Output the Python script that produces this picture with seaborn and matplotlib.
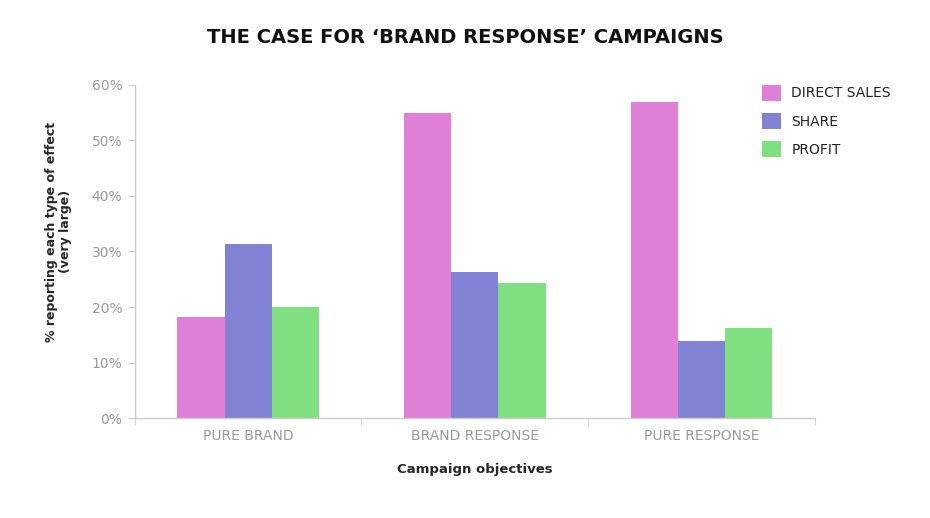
import pandas as pd
import seaborn as sns
import matplotlib.pyplot as plt
from matplotlib.ticker import FixedLocator, PercentFormatter

CATEGORIES = ["PURE BRAND", "BRAND RESPONSE", "PURE RESPONSE"]
DIRECT_SALES = [18.2, 54.9, 57.0]
SHARE = [31.4, 26.3, 13.9]
PROFIT = [20.0, 24.4, 16.2]
SERIES = ["DIRECT SALES", "SHARE", "PROFIT"]
COLORS = ["#df80d6", "#8282d4", "#80df80"]

df = pd.DataFrame({
    "objective": CATEGORIES * 3,
    "effect": [s for s in SERIES for _ in CATEGORIES],
    "pct": DIRECT_SALES + SHARE + PROFIT,
})

sns.set_style("white")
plt.rcParams["font.family"] = ["DejaVu Sans"]

fig = plt.figure(figsize=(9.3, 5.18), dpi=100)
ax = fig.add_axes([0.145, 0.193, 0.731, 0.643])

sns.barplot(data=df, x="objective", y="pct", hue="effect", order=CATEGORIES,
            hue_order=SERIES, palette=COLORS, width=0.625, saturation=1,
            ax=ax, linewidth=0)

ax.set_xlim(-0.5, 2.5)
ax.set_ylim(0, 60)
ax.set_yticks(range(0, 61, 10))
ax.yaxis.set_major_formatter(PercentFormatter(decimals=0))

grey = "#cccccc"
for side in ["top", "right"]:
    ax.spines[side].set_visible(False)
for side in ["left", "bottom"]:
    ax.spines[side].set_color(grey)
    ax.spines[side].set_linewidth(1)

ax.tick_params(axis="y", which="major", length=5, color=grey, labelsize=10,
               labelcolor="#9a9a9a", pad=4, left=True)
ax.tick_params(axis="x", which="major", length=0, labelsize=10,
               labelcolor="#9a9a9a", pad=8)
ax.xaxis.set_minor_locator(FixedLocator([-0.5, 0.5, 1.5, 2.5]))
ax.tick_params(axis="x", which="minor", length=5, color=grey, bottom=True)

ax.set_xlabel("Campaign objectives", fontsize=9.5, fontweight="bold", labelpad=14)
ax.set_ylabel("% reporting each type of effect\n(very large)", fontsize=9,
              fontweight="heavy", linespacing=1.05)
ax.yaxis.set_label_coords(-0.093, 0.56)

fig.suptitle("THE CASE FOR \u2018BRAND RESPONSE\u2019 CAMPAIGNS", x=0.5, y=0.945,
             fontsize=14, fontweight="bold", color="#111111")

ax.legend(loc="upper left", bbox_to_anchor=(762 / 930, 1 - 85 / 518),
          bbox_transform=fig.transFigure, frameon=False,
          fontsize=10, handlelength=1.35, handleheight=1.35, handletextpad=0.75,
          labelspacing=0.9, borderaxespad=0, borderpad=0,
          labelcolor="#222222")

fig.savefig("out.png", dpi=100)
